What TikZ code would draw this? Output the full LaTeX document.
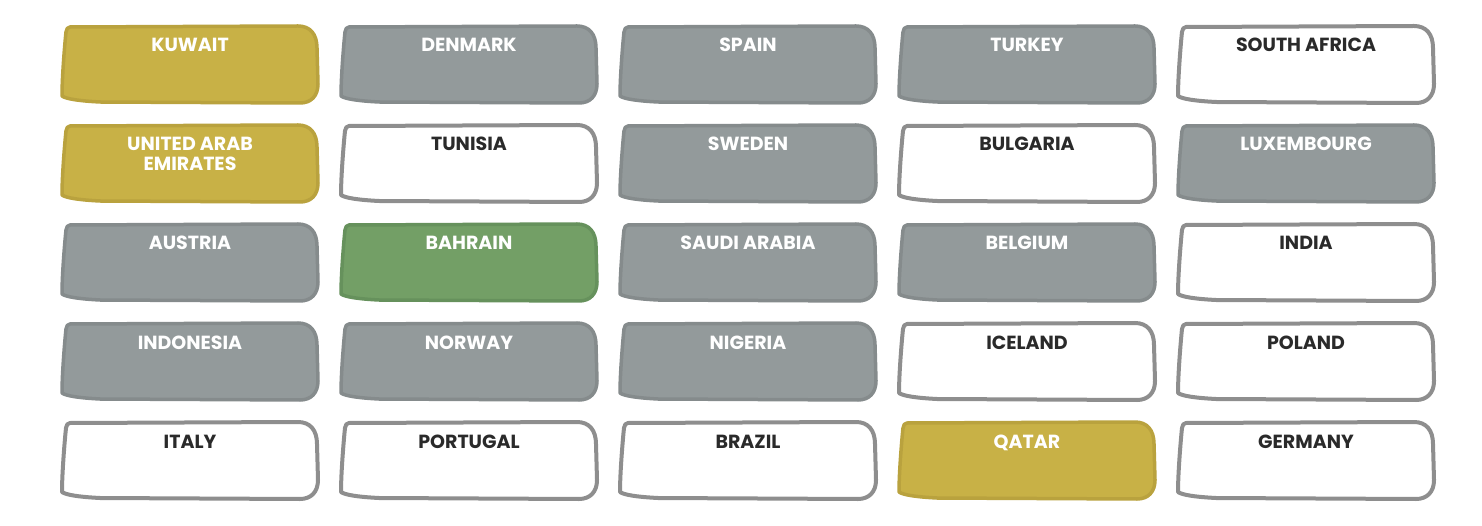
\documentclass[tikz,border=0pt]{standalone}
\usepackage{fontspec}
\setmainfont{Poppins}
\usetikzlibrary{positioning}

\definecolor{goldfill}{HTML}{C8B146}
\definecolor{goldedge}{HTML}{B9A23E}
\definecolor{greyfill}{HTML}{939A9B}
\definecolor{greyedge}{HTML}{858B8C}
\definecolor{greenfill}{HTML}{739F66}
\definecolor{greenedge}{HTML}{66915C}
\definecolor{whiteedge}{HTML}{8E8E8E}
\definecolor{inkdark}{HTML}{2A2A2A}

\tikzset{
  card/.style={line width=3.5pt, line join=round},
  gold card/.style={card, fill=goldfill, draw=goldedge},
  grey card/.style={card, fill=greyfill, draw=greyedge},
  green card/.style={card, fill=greenfill, draw=greenedge},
  white card/.style={card, line width=4pt, fill=white, draw=whiteedge},
  countryname/.style={font=\fontsize{19}{20}\selectfont\bfseries,
    anchor=base, inner sep=0pt},
  gold name/.style={countryname, text=white},
  grey name/.style={countryname, text=white},
  green name/.style={countryname, text=white},
  white name/.style={countryname, text=inkdark}
}

% two centred lines, baseline on the first one
\newcommand\twolines[2]{\begin{tabular}[t]{@{}c@{}}#1\\#2\end{tabular}}

\newcommand\cardoutline{(10,1) -- (238,0) .. controls (250,0) and (257,8) .. (257,22)
  -- (258,58) .. controls (258,70) and (251,77) .. (240,77) -- (40,76)
  .. controls (20,75) and (6,73) .. (2,70) .. controls (2,50) and (5,15) .. (6,6)
  .. controls (6,3) and (8,1) .. (10,1) -- cycle}

\begin{document}
\begin{tikzpicture}[x=1pt, y=-1pt]
\useasboundingbox (0,0) rectangle (1482,526);

\foreach \c/\r/\kind/\name in {
  1/1/gold/KUWAIT, 2/1/grey/DENMARK, 3/1/grey/SPAIN, 4/1/grey/TURKEY, 5/1/white/SOUTH AFRICA,
  1/2/gold/\twolines{UNITED ARAB}{EMIRATES}, 2/2/white/TUNISIA, 3/2/grey/SWEDEN, 4/2/white/BULGARIA, 5/2/grey/LUXEMBOURG,
  1/3/grey/AUSTRIA, 2/3/green/BAHRAIN, 3/3/grey/SAUDI ARABIA, 4/3/grey/BELGIUM, 5/3/white/INDIA,
  1/4/grey/INDONESIA, 2/4/grey/NORWAY, 3/4/grey/NIGERIA, 4/4/white/ICELAND, 5/4/white/POLAND,
  1/5/white/ITALY, 2/5/white/PORTUGAL, 3/5/white/BRAZIL, 4/5/gold/QATAR, 5/5/white/GERMANY}
{
  \begin{scope}[shift={({60+279*(\c-1)},{26+99*(\r-1)})}]
    \draw [\kind\space card] \cardoutline;
    \node [\kind\space name] (country-\c-\r) at (130,26) {\name};
  \end{scope}
}
\end{tikzpicture}
\end{document}
